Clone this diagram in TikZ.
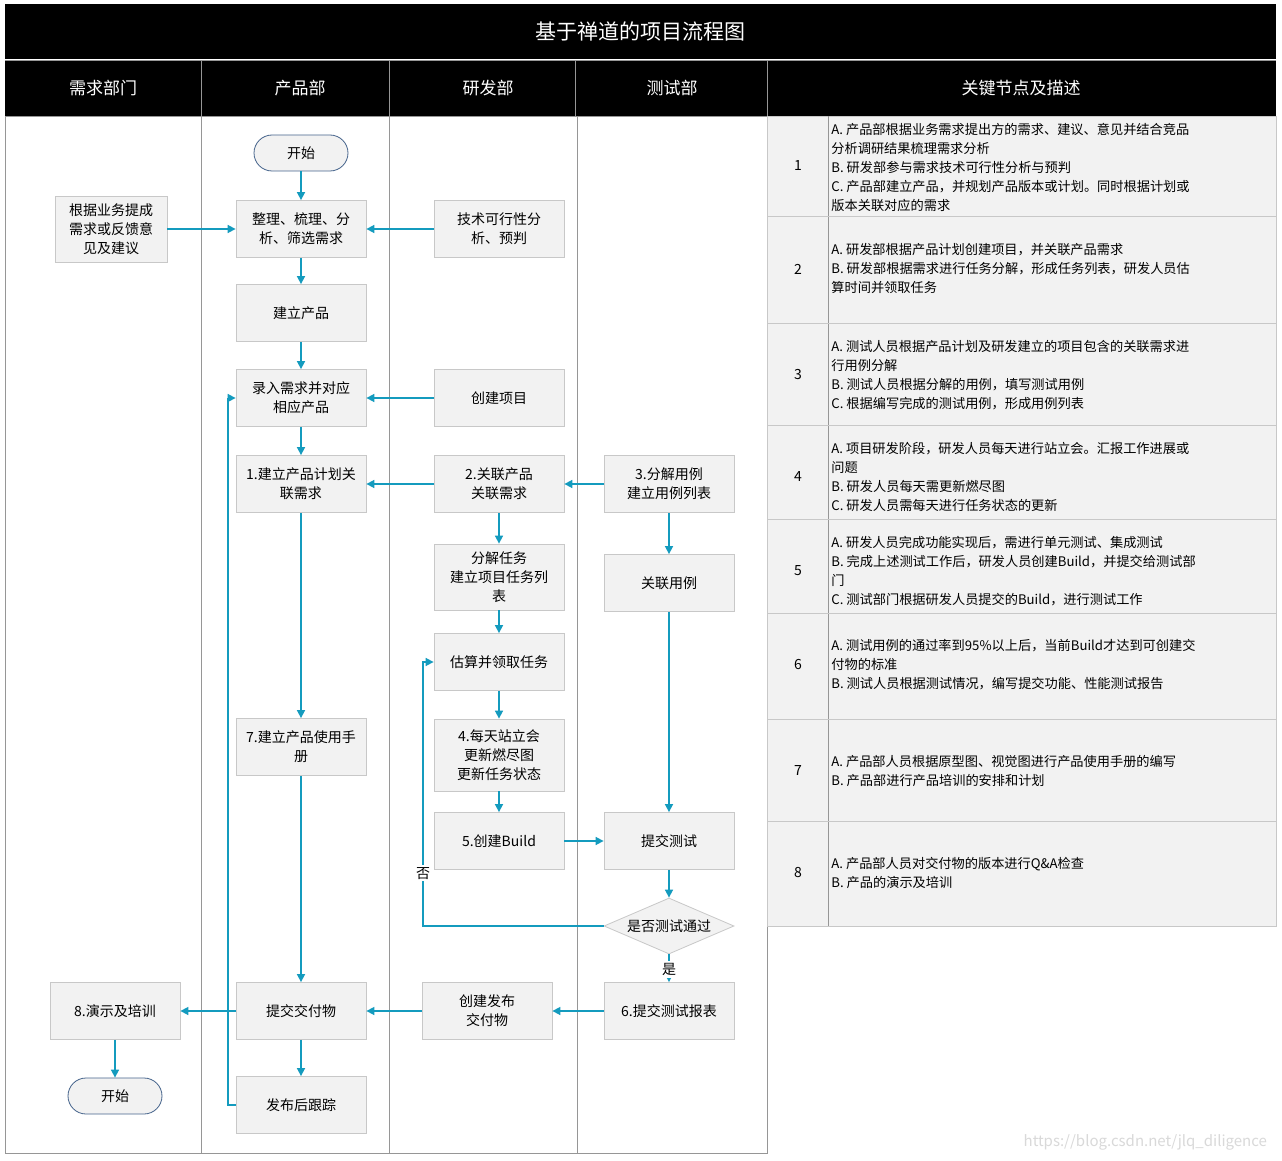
\documentclass[tikz,border=0pt]{standalone}
\usepackage{fontspec}
\setmainfont{Noto Sans CJK SC}
\usetikzlibrary{shapes.geometric,arrows.meta}
\definecolor{flow}{RGB}{20,155,190}
\definecolor{boxf}{RGB}{242,242,242}
\definecolor{boxd}{RGB}{200,200,200}
\definecolor{lane}{RGB}{150,150,150}
\definecolor{termd}{RGB}{70,100,140}
\tikzset{
 box/.style={draw=boxd,fill=boxf,minimum width=65pt,minimum height=28.5pt,align=center,font=\fontsize{7}{9.5}\selectfont,inner sep=1pt},
 term/.style={draw=termd,fill=boxf,rounded corners=9pt,minimum width=47pt,minimum height=18pt,font=\fontsize{7}{9}\selectfont},
 dia/.style={diamond,aspect=2.3,draw=boxd,fill=boxf,minimum width=65pt,minimum height=28pt,inner sep=0pt,font=\fontsize{7}{9}\selectfont},
 ar/.style={draw=flow,line width=0.8pt,-{Triangle[length=4pt,width=4pt]}},
 hdr/.style={text=white,font=\fontsize{8.5}{10}\selectfont},
 tt/.style={align=left,anchor=west,font=\fontsize{6.6}{9.5}\selectfont,inner sep=0pt},
 lbl/.style={font=\fontsize{7}{9}\selectfont}
}
\begin{document}
\begin{tikzpicture}[x=0.5pt,y=-0.5pt]
\useasboundingbox (0,0) rectangle (1282,1161);
\fill[white] (0,0) rectangle (1282,1161);
% headers
\fill[black] (5,4) rectangle (1276,59);
\fill[black] (5,61) rectangle (1276,116);
\draw[lane] (5,60) -- (1276,60);
\node[text=white,font=\fontsize{10.5}{12}\selectfont] (title) at (640,31) {基于禅道的项目流程图};
\foreach \x in {201,389,575,767}{\draw[lane] (\x,61) -- (\x,116);}
\node[hdr] (h1) at (103,88) {需求部门};
\node[hdr] (h2) at (300,88) {产品部};
\node[hdr] (h3) at (488,88) {研发部};
\node[hdr] (h4) at (672,88) {测试部};
\node[hdr] (h5) at (1021,88) {关键节点及描述};
% lanes
\draw[lane] (5,116) rectangle (767,1153);
\foreach \x in {201,389,577}{\draw[lane] (\x,116) -- (\x,1153);}
% table
\fill[boxf] (767,116) rectangle (1276,926);
\draw[boxd] (767,116) rectangle (1276,926);
\draw[lane] (828,116) -- (828,926);
\foreach \y in {216,323,425,519,613,719,821}{\draw[boxd] (767,\y) -- (1276,\y);}
\node[lbl] (n1) at (798,166) {1};
\node[lbl] (n2) at (798,269) {2};
\node[lbl] (n3) at (798,375) {3};
\node[lbl] (n4) at (798,477) {4};
\node[lbl] (n5) at (798,571) {5};
\node[lbl] (n6) at (798,665) {6};
\node[lbl] (n7) at (798,771) {7};
\node[lbl] (n8) at (798,873) {8};
\node[tt] (t1) at (831,167) {A. 产品部根据业务需求提出方的需求、建议、意见并结合竞品\\分析调研结果梳理需求分析\\B. 研发部参与需求技术可行性分析与预判\\C. 产品部建立产品，并规划产品版本或计划。同时根据计划或\\版本关联对应的需求};
\node[tt] (t2) at (831,269) {A. 研发部根据产品计划创建项目，并关联产品需求\\B. 研发部根据需求进行任务分解，形成任务列表，研发人员估\\算时间并领取任务};
\node[tt] (t3) at (831,375) {A. 测试人员根据产品计划及研发建立的项目包含的关联需求进\\行用例分解\\B. 测试人员根据分解的用例，填写测试用例\\C. 根据编写完成的测试用例，形成用例列表};
\node[tt] (t4) at (831,477) {A. 项目研发阶段，研发人员每天进行站立会。汇报工作进展或\\问题\\B. 研发人员每天需更新燃尽图\\C. 研发人员需每天进行任务状态的更新};
\node[tt] (t5) at (831,571) {A. 研发人员完成功能实现后，需进行单元测试、集成测试\\B. 完成上述测试工作后，研发人员创建Build，并提交给测试部\\门\\C. 测试部门根据研发人员提交的Build，进行测试工作};
\node[tt] (t6) at (831,665) {A. 测试用例的通过率到95\%以上后，当前Build才达到可创建交\\付物的标准\\B. 测试人员根据测试情况，编写提交功能、性能测试报告};
\node[tt] (t7) at (831,771) {A. 产品部人员根据原型图、视觉图进行产品使用手册的编写\\B. 产品部进行产品培训的安排和计划};
\node[tt] (t8) at (831,873) {A. 产品部人员对交付物的版本进行Q\&A检查\\B. 产品的演示及培训};
% nodes
\node[term] (start) at (301,153) {开始};
\node[box,minimum width=56pt,minimum height=33pt] (req) at (111,229) {根据业务提成\\需求或反馈意\\见及建议};
\node[box] (sort) at (301,229) {整理、梳理、分\\析、筛选需求};
\node[box] (tech) at (499,229) {技术可行性分\\析、预判};
\node[box] (prod) at (301,313) {建立产品};
\node[box] (enter) at (301,398) {录入需求并对应\\相应产品};
\node[box] (proj) at (499,398) {创建项目};
\node[box] (plan) at (301,484) {1.建立产品计划关\\联需求};
\node[box] (link) at (499,484) {2.关联产品\\关联需求};
\node[box] (case) at (669,484) {3.分解用例\\建立用例列表};
\node[box,minimum height=33pt] (split) at (499,577) {分解任务\\建立项目任务列\\表};
\node[box] (lcase) at (669,583) {关联用例};
\node[box] (est) at (499,662) {估算并领取任务};
\node[box] (manual) at (301,747) {7.建立产品使用手\\册};
\node[box,minimum height=36pt] (daily) at (499,755) {4.每天站立会\\更新燃尽图\\更新任务状态};
\node[box] (build) at (499,841) {5.创建Build};
\node[box] (sub) at (669,841) {提交测试};
\node[dia] (pass) at (669,926) {是否测试通过};
\node[box] (demo) at (115,1011) {8.演示及培训};
\node[box] (deliv) at (301,1011) {提交交付物};
\node[box] (rel) at (487,1011) {创建发布\\交付物};
\node[box] (rep) at (669,1011) {6.提交测试报表};
\node[term] (end) at (115,1096) {开始};
\node[box] (track) at (301,1105) {发布后跟踪};
% arrows
\draw[ar] (start) -- (sort);
\draw[ar] (req) -- (sort);
\draw[ar] (tech) -- (sort);
\draw[ar] (sort) -- (prod);
\draw[ar] (prod) -- (enter);
\draw[ar] (proj) -- (enter);
\draw[ar] (enter) -- (plan);
\draw[ar] (link) -- (plan);
\draw[ar] (case) -- (link);
\draw[ar] (link) -- (split);
\draw[ar] (split) -- (est);
\draw[ar] (est) -- (daily);
\draw[ar] (daily) -- (build);
\draw[ar] (build) -- (sub);
\draw[ar] (case) -- (lcase);
\draw[ar] (lcase) -- (sub);
\draw[ar] (sub) -- (pass);
\draw[ar] (plan) -- (manual);
\draw[ar] (manual) -- (deliv);
\draw[ar] (pass) -- node[lbl,fill=white,inner sep=1pt,pos=0.55] (yes) {是} (rep);
\coordinate (nob) at (423,926);
\coordinate (not) at (423,662);
\draw[ar] (pass.west) -- (nob) -- node[lbl,fill=white,inner sep=1pt,pos=0.2] (no) {否} (not) -- (est.west);
\draw[ar] (rep) -- (rel);
\draw[ar] (rel) -- (deliv);
\draw[ar] (deliv) -- (demo);
\draw[ar] (demo) -- (end);
\draw[ar] (deliv) -- (track);
\coordinate (lb) at (228,1105);
\coordinate (lt) at (228,398);
\draw[ar] (track.west) -- (lb) -- (lt) -- (enter.west);
\node[text=black!15,font=\fontsize{7.5}{9}\selectfont,anchor=east] (wm) at (1274,1142) {https://blog.csdn.net/jlq\_diligence};
\end{tikzpicture}
\end{document}
